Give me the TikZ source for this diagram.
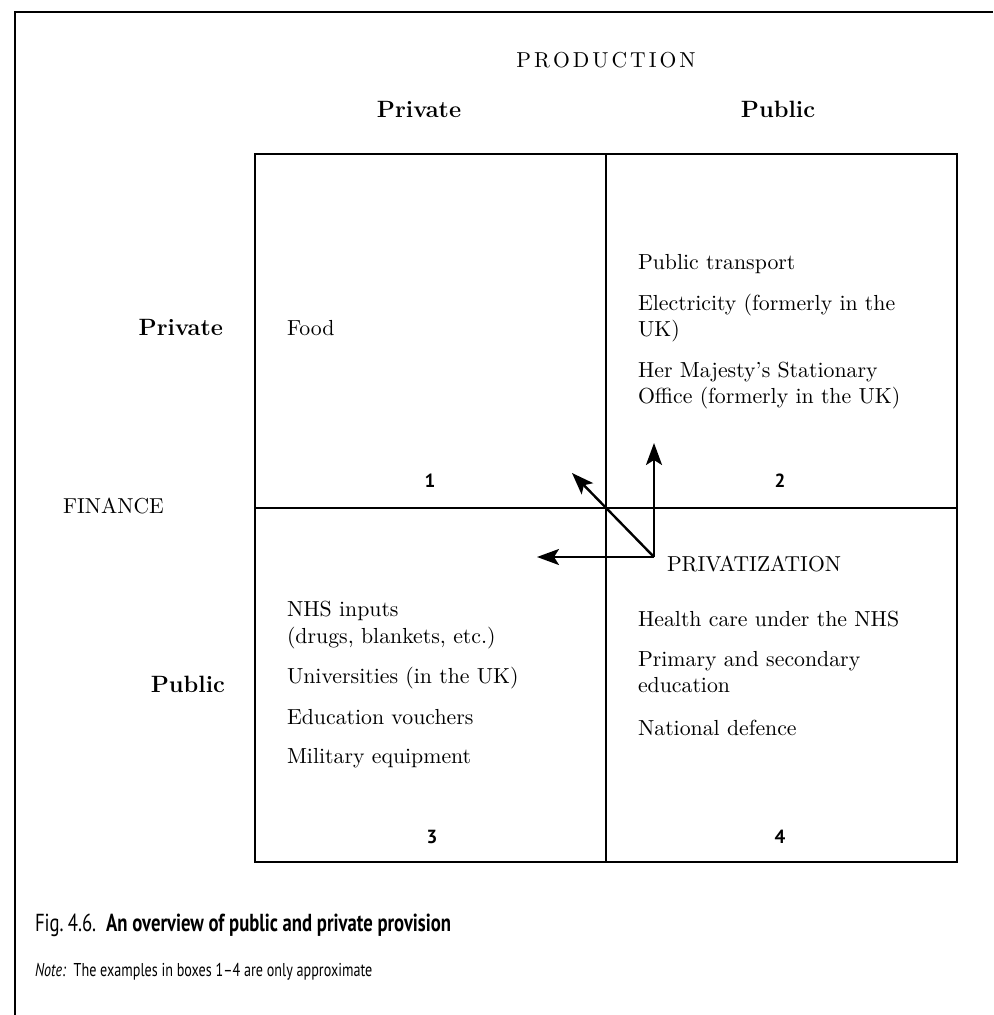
\documentclass[tikz,border=0pt]{standalone}
\usepackage{fontspec}
\setsansfont{PT Sans}
\newfontfamily\capsans[FakeStretch=0.76,Ligatures=TeX]{PT Sans}
\usetikzlibrary{arrows.meta}
\newcommand{\spaced}[1]{\def\spgap{\kern1.5pt}\spacedi#1\relax}
\def\spacedi#1#2{#1\ifx#2\relax\else\spgap\expandafter\spacedi\expandafter#2\fi}
\begin{document}
\begin{tikzpicture}[x=0.5pt,y=-0.5pt,
  every node/.style={inner sep=0pt,outer sep=0pt},
  body/.style={anchor=base west,font=\fontsize{10.9}{13}\selectfont},
  head/.style={anchor=base,font=\fontsize{11.8}{13}\selectfont\bfseries},
  caps/.style={font=\fontsize{10.8}{13}\selectfont},
  num/.style={anchor=base,font=\sffamily\bfseries\fontsize{9.5}{11}\selectfont},
  grid/.style={line width=0.55pt},
  frame/.style={line width=0.6pt},
  privarrow/.style={line width=1.2pt,-{Stealth[length=11pt,width=8pt,inset=2.5pt]}}]
\useasboundingbox (0,0) rectangle (993,1015);
% outer frame (top and left only)
\draw[frame] (15,1015) -- (15,12) -- (993,12);
% grid
\draw[grid] (255,154) rectangle (957,862);
\draw[grid] (606,154) -- (606,862);
\draw[grid] (255,508) -- (957,508);
% headings
\node[caps,anchor=base] (prod) at (606,68) {\spaced{PRODUCTION}};
\node[head] (colpriv) at (419,118) {Private};
\node[head] (colpub) at (778,118) {Public};
\node[head,anchor=base east] (rowpriv) at (223,336) {Private};
\node[head,anchor=base east] (rowpub) at (225,692) {Public};
\node[caps,anchor=base west] (fin) at (63,513) {FINANCE};
% box 1
\node[body] (food) at (287,336) {Food};
\node[num] (n1) at (430,487) {1};
% box 2
\node[body] (b2a) at (638,270) {Public transport};
\node[body] (b2b) at (638,311) {Electricity (formerly in the};
\node[body] (b2c) at (638,337) {UK)};
\node[body] (b2d) at (638,378) {Her Majesty's Stationary};
\node[body] (b2e) at (638,403) {Office (formerly in the UK)};
\node[num] (n2) at (780,487) {2};
% box 3
\node[body] (b3a) at (287,616) {NHS inputs};
\node[body] (b3b) at (287,643) {(drugs, blankets, etc.)};
\node[body] (b3c) at (287,683) {Universities (in the UK)};
\node[body] (b3d) at (287,724) {Education vouchers};
\node[body] (b3e) at (287,763) {Military equipment};
\node[num] (n3) at (432,843) {3};
% box 4
\node[caps,anchor=base west] (privz) at (667,571) {PRIVATIZATION};
\node[body] (b4a) at (638,626) {Health care under the NHS};
\node[body] (b4b) at (638,666) {Primary and secondary};
\node[body] (b4c) at (638,692) {education};
\node[body] (b4d) at (638,735) {National defence};
\node[num] (n4) at (780,843) {4};
% privatization arrows
\coordinate (o) at (654,557);
\coordinate (up) at (654,443);
\coordinate (lf) at (537,557);
\coordinate (dg) at (572,473);
\draw[privarrow] (o) -- (up);
\draw[privarrow] (o) -- (lf);
\draw[privarrow] (o) -- (dg);
% caption
\node[anchor=base west,font=\capsans\fontsize{12.3}{14}\selectfont] (cap) at (35,931) {Fig.\,4.6.\ \ \textbf{An overview of public and private provision}};
\node[anchor=base west,font=\capsans\fontsize{9.3}{11}\selectfont] (note) at (35,976) {\textit{Note:}\ \ The examples in boxes 1\textendash 4 are only approximate};
\end{tikzpicture}
\end{document}
